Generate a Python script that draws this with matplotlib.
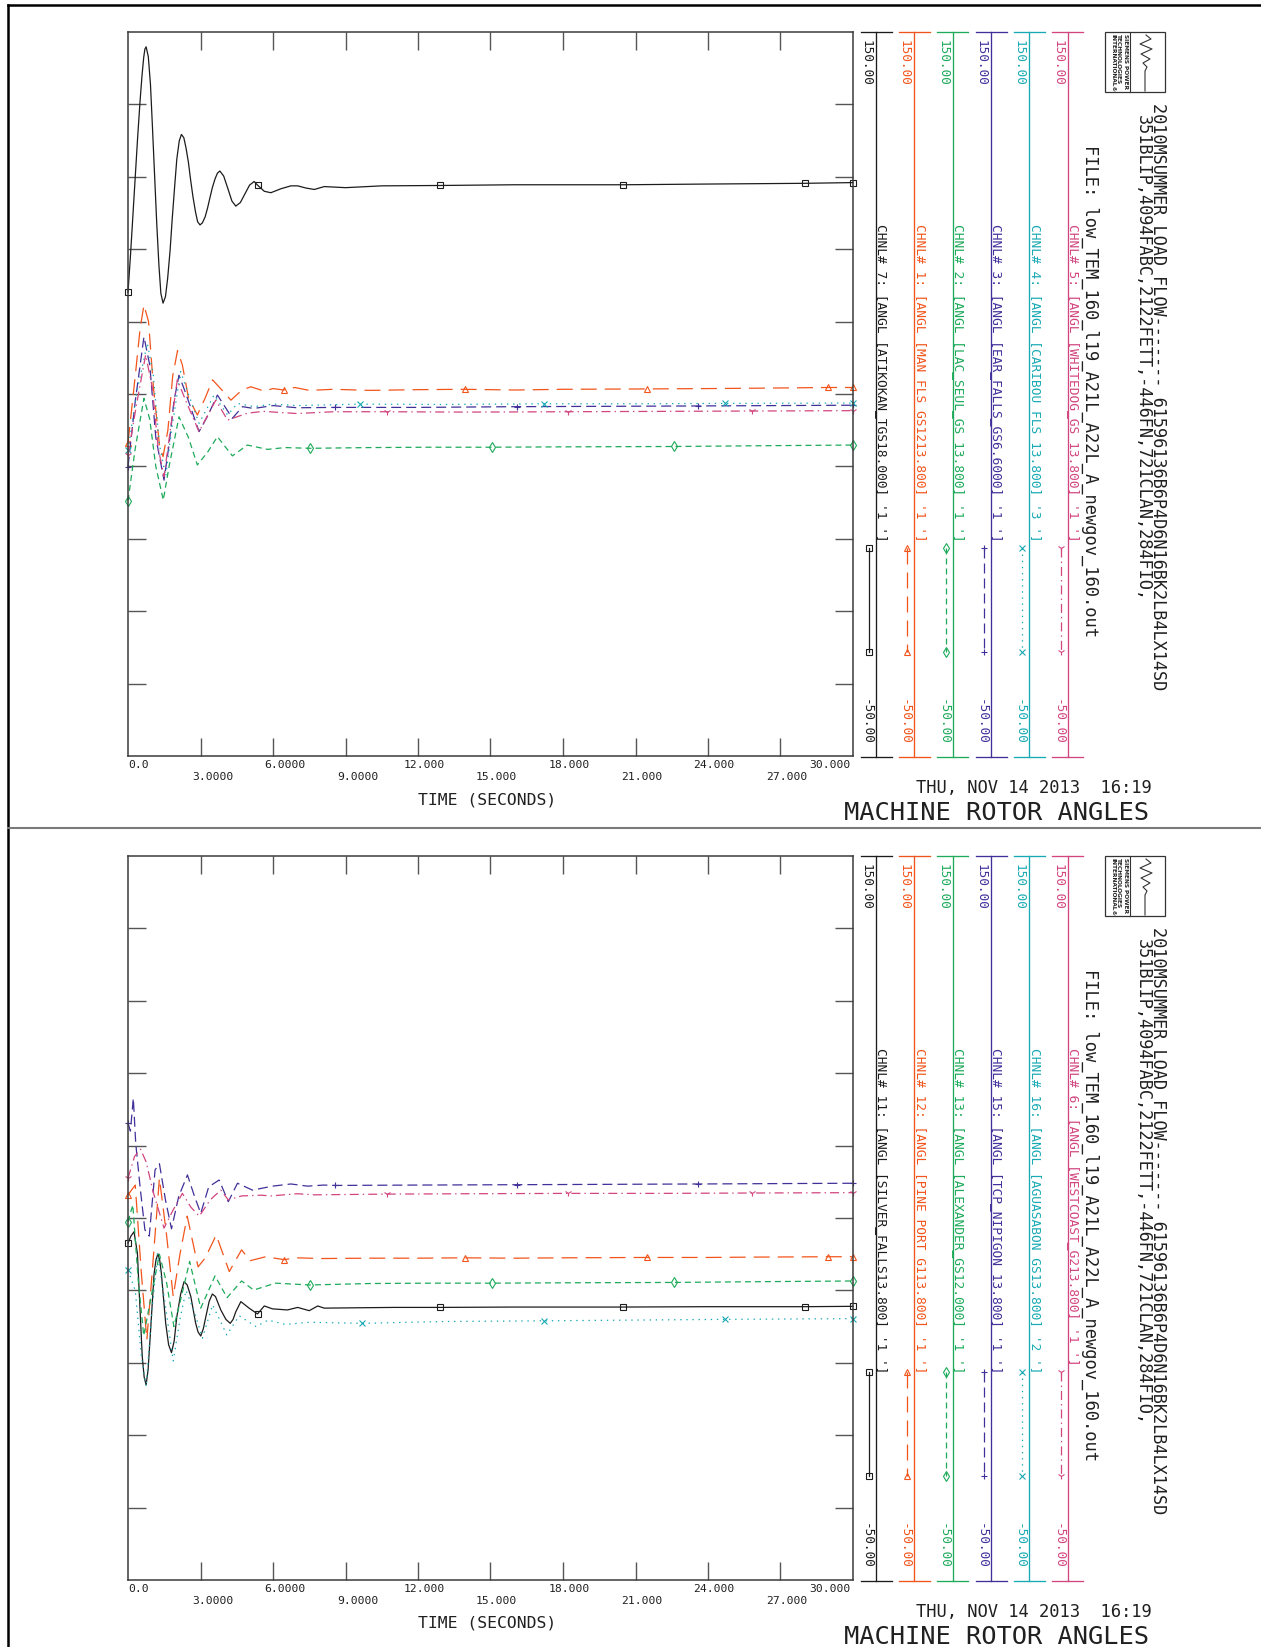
#!/usr/bin/env python3
import matplotlib
matplotlib.use('Agg')  # no display
import matplotlib.pyplot as plt
from matplotlib.patches import Rectangle
import numpy as np

plt.rcParams['font.family'] = ['DejaVu Sans Mono', 'DejaVu Sans']
plt.rcParams['lines.scale_dashes'] = False

# ---------------- text ----------------
HEADER_1 = '2010MSUMMER LOAD FLOW------- 61596136B6P4D6N16BK2LB4LX14SD'
HEADER_2 = '351BLIP,4094FABC,2122FETT,-446FN,721CLAN,284FIO,'
FILE_LINE = 'FILE: low_TEM_160_l19_A21L_A22L_A_newgov_160.out'
DATE_LINE = 'THU, NOV 14 2013  16:19'
TITLE = 'MACHINE ROTOR ANGLES'
X_LABEL = 'TIME (SECONDS)'
LOGO_LINES = ['SIEMENS POWER', 'TECHNOLOGIES', 'INTERNATIONAL\u00ae']

time_ticks = [0, 3, 6, 9, 12, 15, 18, 21, 24, 27, 30]
time_tick_labels = ['0.0', '3.0000', '6.0000', '9.0000', '12.000', '15.000',
                    '18.000', '21.000', '24.000', '27.000', '30.000']
value_ticks = [-30, -10, 10, 30, 50, 70, 90, 110, 130]
y_min, y_max = -50.0, 150.0
scale_top = '150.00'
scale_bottom = '-50.00'

# ---------------- top panel data (columns: black, orange, green, purple, cyan, magenta) ----------------
top_labels = [
    "CHNL# 7: [ANGL [ATIKOKAN_TGS18.000] '1 ']",
    "CHNL# 1: [ANGL [MAN_FLS_GS1213.800] '1 ']",
    "CHNL# 2: [ANGL [LAC_SEUL_GS 13.800] '1 ']",
    "CHNL# 3: [ANGL [EAR_FALLS_GS6.6000] '1 ']",
    "CHNL# 4: [ANGL [CARIBOU_FLS 13.800] '3 ']",
    "CHNL# 5: [ANGL [WHITEDOG_GS 13.800] '1 ']",
]

top_ch7_t = [0, 0.1, 0.2, 0.3, 0.4, 0.5, 0.58, 0.65, 0.7, 0.75, 0.84, 0.93, 1.01, 1.1, 1.19, 1.28,
             1.36, 1.45, 1.55, 1.64, 1.74, 1.83, 1.93, 2.02, 2.12, 2.21, 2.31, 2.4, 2.5, 2.59, 2.69,
             2.79, 2.88, 2.98, 3.08, 3.19, 3.29, 3.39, 3.49, 3.6, 3.7, 3.8, 3.96, 4.13, 4.3, 4.46,
             4.65, 4.84, 5.03, 5.22, 5.36, 5.64, 5.91, 6.33, 6.74, 7.02, 7.36, 7.71, 8.12, 9.0,
             10.5, 12.9, 16.0, 20.5, 24.0, 28.0, 30.0]
top_ch7_v = [78.1, 88.0, 99.0, 110.0, 121.0, 131.0, 138.0, 143.0, 145.3, 145.9, 143.2, 135.5, 124.0,
             110.5, 97.0, 85.5, 77.8, 75.1, 76.9, 81.9, 89.5, 98.4, 107.3, 114.9, 119.9, 121.7,
             120.8, 118.0, 114.0, 109.2, 104.4, 100.4, 97.6, 96.7, 97.3, 98.9, 101.3, 104.2, 107.0,
             109.4, 111.0, 111.6, 110.2, 106.8, 103.3, 101.9, 102.9, 105.3, 107.7, 108.7, 107.7,
             106.0, 105.6, 106.7, 107.5, 107.5, 106.9, 106.5, 107.3, 107.0, 107.5, 107.6, 107.8,
             107.8, 108.0, 108.2, 108.4]
top_ch7_marks = [0, 5.36, 12.9, 20.5, 28.0, 30.0]

top_ch1_t = [0, 0.3, 0.5, 0.66, 0.85, 1.05, 1.3, 1.45, 1.65, 1.85, 2.05, 2.25, 2.5, 2.87, 3.2, 3.5,
             3.9, 4.26, 4.7, 5.08, 5.64, 6.0, 6.44, 6.9, 7.5, 8.5, 10.0, 12.0, 13.93, 16.0, 18.0,
             21.46, 24.0, 26.0, 28.98, 30.0]
top_ch1_v = [36.5, 55.0, 68.0, 74.6, 70.0, 52.0, 36.0, 32.7, 40.0, 55.0, 62.0, 58.0, 49.0, 44.2,
             49.0, 53.9, 51.0, 48.3, 51.0, 52.0, 50.8, 51.5, 51.1, 51.8, 51.0, 51.3, 51.0, 51.2,
             51.3, 51.1, 51.3, 51.4, 51.5, 51.6, 51.8, 51.8]
top_ch1_marks = [0, 6.44, 13.93, 21.46, 28.98, 30.0]

top_ch2_t = [0, 0.3, 0.66, 0.9, 1.15, 1.46, 1.7, 2.11, 2.5, 2.87, 3.3, 3.7, 4.32, 4.94, 5.77, 6.5,
             7.53, 10.0, 12.5, 15.06, 18.0, 22.6, 26.0, 30.0]
top_ch2_v = [20.5, 35.0, 48.8, 43.0, 30.0, 20.7, 30.0, 43.7, 38.0, 30.4, 34.0, 38.2, 32.9, 35.9,
             34.7, 35.2, 35.0, 35.2, 35.3, 35.3, 35.4, 35.5, 35.7, 35.9]
top_ch2_marks = [0, 7.53, 15.06, 22.6, 30.0]

top_ch3_t = [0, 0.3, 0.66, 0.9, 1.15, 1.49, 1.7, 1.9, 2.11, 2.4, 2.94, 3.3, 3.7, 4.32, 4.74, 5.2,
             6.0, 7.0, 8.58, 12.0, 16.1, 20.0, 23.6, 30.0]
top_ch3_v = [29.9, 48.0, 65.8, 58.0, 38.0, 26.2, 36.0, 48.0, 55.2, 50.0, 39.6, 44.0, 49.7, 43.3,
             46.5, 46.0, 46.8, 46.2, 46.3, 46.3, 46.5, 46.6, 46.7, 46.9]
top_ch3_marks = [0, 8.58, 16.1, 23.6, 30.0]

top_ch4_t = [0, 0.35, 0.8, 1.05, 1.3, 1.56, 1.8, 2.18, 2.5, 2.94, 3.56, 4.12, 4.53, 5.2, 6.0, 7.0,
             9.6, 13.0, 17.2, 21.0, 24.7, 30.0]
top_ch4_v = [34.5, 50.0, 64.0, 55.0, 36.0, 27.2, 40.0, 56.2, 50.0, 41.9, 49.7, 44.2, 47.4, 46.5,
             47.2, 46.8, 47.2, 47.1, 47.3, 47.3, 47.4, 47.5]
top_ch4_marks = [0, 9.6, 17.2, 24.7, 30.0]

top_ch5_t = [0, 0.35, 0.73, 1.0, 1.25, 1.49, 1.75, 2.04, 2.4, 2.94, 3.63, 4.12, 4.94, 5.6, 7.0,
             8.5, 10.7, 14.0, 18.2, 22.0, 25.8, 30.0]
top_ch5_v = [33.1, 47.0, 60.8, 52.0, 35.0, 27.2, 40.0, 53.9, 48.0, 39.6, 48.3, 42.8, 44.7, 45.2,
             44.6, 45.1, 45.1, 45.0, 45.1, 45.2, 45.3, 45.4]
top_ch5_marks = [0, 10.7, 18.2, 25.8, 30.0]

# ---------------- bottom panel data ----------------
bot_labels = [
    "CHNL# 11: [ANGL [SILVER_FALLS13.800] '1 ']",
    "CHNL# 12: [ANGL [PINE_PORT_G113.800] '1 ']",
    "CHNL# 13: [ANGL [ALEXANDER_GS12.000] '1 ']",
    "CHNL# 15: [ANGL [TCP_NIPIGON 13.800] '1 ']",
    "CHNL# 16: [ANGL [AGUASABON_GS13.800] '2 ']",
    "CHNL# 6: [ANGL [WESTCOAST_G213.800] '1 ']",
]

bot_ch11_t = [0, 0.12, 0.25, 0.39, 0.46, 0.59, 0.67, 0.75, 0.83, 0.91, 1.08, 1.16, 1.24, 1.31,
              1.38, 1.56, 1.68, 1.8, 1.91, 2.02, 2.18, 2.32, 2.45, 2.6, 2.8, 2.9, 3.01, 3.12, 3.22,
              3.36, 3.49, 3.62, 3.84, 4.05, 4.23, 4.35, 4.46, 4.67, 5.01, 5.36, 5.64, 5.98, 6.6,
              7.02, 7.5, 7.85, 8.12, 9.5, 11.0, 12.9, 16.0, 20.5, 24.0, 28.0, 30.0]
bot_ch11_v = [43.0, 45.0, 46.2, 40.2, 30.1, 11.7, 6.0, 3.9, 8.0, 16.3, 34.7, 38.5, 40.1, 38.5,
              34.7, 20.9, 15.0, 12.8, 16.0, 22.7, 29.0, 32.4, 31.5, 28.3, 20.9, 18.5, 17.4, 19.5,
              22.7, 27.0, 29.0, 28.3, 24.6, 22.0, 20.9, 22.0, 24.1, 26.9, 25.1, 23.5, 25.7, 24.9,
              24.6, 25.3, 24.4, 25.7, 25.1, 25.2, 25.3, 25.3, 25.4, 25.4, 25.5, 25.5, 25.6]
bot_ch11_marks = [0, 5.36, 12.9, 20.5, 28.0, 30.0]

bot_ch12_t = [0, 0.3, 0.55, 0.78, 1.0, 1.3, 1.6, 1.87, 2.15, 2.45, 2.9, 3.2, 3.65, 4.19, 4.7,
              5.05, 5.7, 6.45, 7.0, 8.0, 10.0, 12.0, 13.93, 16.0, 18.0, 21.46, 24.0, 26.0, 28.98, 30.0]
bot_ch12_v = [56.4, 59.1, 35.0, 16.3, 35.0, 61.0, 45.0, 28.3, 40.0, 50.5, 36.5, 39.0, 45.3, 35.2,
              41.2, 38.2, 39.3, 38.5, 39.0, 38.8, 38.9, 38.9, 39.0, 38.9, 39.0, 39.1, 39.1, 39.2,
              39.3, 39.3]
bot_ch12_marks = [0, 6.45, 13.93, 21.46, 28.98, 30.0]

bot_ch13_t = [0, 0.2, 0.42, 0.65, 0.95, 1.3, 1.6, 1.9, 2.2, 2.55, 3.01, 3.6, 4.1, 4.7, 5.2, 6.1,
              7.52, 10.0, 12.5, 15.06, 18.0, 22.6, 26.0, 30.0]
bot_ch13_v = [49.0, 53.6, 33.0, 17.5, 28.0, 40.0, 32.0, 20.0, 28.0, 38.0, 25.1, 34.0, 28.0, 32.6,
              30.1, 32.0, 31.5, 31.9, 32.0, 32.0, 32.1, 32.2, 32.4, 32.6]
bot_ch13_marks = [0, 7.52, 15.06, 22.6, 30.0]

bot_ch15_t = [0, 0.1, 0.22, 0.32, 0.5, 0.7, 0.88, 1.12, 1.3, 1.55, 1.8, 2.1, 2.46, 2.75, 3.01,
              3.34, 3.77, 4.15, 4.53, 5.15, 5.98, 6.74, 7.43, 8.1, 8.58, 12.0, 16.1, 20.0, 23.6, 30.0]
bot_ch15_v = [76.2, 74.0, 83.1, 70.6, 58.6, 46.7, 45.0, 63.3, 65.0, 55.0, 47.0, 56.0, 61.9, 56.0,
              51.3, 58.6, 60.5, 54.5, 59.6, 57.7, 58.8, 59.4, 58.8, 59.1, 59.0, 59.1, 59.2, 59.3,
              59.4, 59.6]
bot_ch15_marks = [0, 8.58, 16.1, 23.6, 30.0]

bot_ch16_t = [0, 0.3, 0.55, 0.75, 1.0, 1.22, 1.5, 1.87, 2.15, 2.4, 2.75, 3.08, 3.5, 4.09, 4.6,
              5.3, 5.8, 6.5, 7.5, 9.7, 13.0, 17.2, 21.0, 24.7, 30.0]
bot_ch16_v = [35.6, 30.0, 12.0, 3.4, 25.0, 40.2, 28.0, 10.5, 22.0, 30.0, 24.0, 16.8, 26.0, 17.7,
              23.0, 20.0, 21.8, 20.6, 21.2, 20.9, 21.4, 21.6, 21.8, 22.0, 22.2]
bot_ch16_marks = [0, 9.7, 17.2, 24.7, 30.0]

bot_ch6_t = [0, 0.27, 0.52, 0.75, 1.05, 1.49, 1.85, 2.25, 2.6, 2.95, 3.4, 3.84, 4.15, 4.7, 5.5,
             5.91, 7.0, 7.7, 10.7, 14.0, 18.2, 22.0, 25.8, 30.0]
bot_ch6_v = [61.0, 67.0, 69.0, 65.5, 57.0, 47.2, 52.0, 56.8, 53.0, 50.5, 55.0, 57.7, 55.0, 56.1,
             56.3, 56.1, 56.7, 56.4, 56.6, 56.7, 56.8, 56.8, 56.9, 57.0]
bot_ch6_marks = [0, 10.7, 18.2, 25.8, 30.0]

# ---------------- layout / styles (pixels) ----------------
W, H = 1261, 1647
PX = 0.72          # points per pixel at dpi 100
PANEL_DY = 824
PLOT_L, PLOT_T, PLOT_R, PLOT_B = 128, 32, 853, 756
COL_X = [876, 914.3, 952.7, 991, 1029.3, 1067.7]
TEXT_C = '#202020'
MS = 5

STYLES = [
    dict(color='#1c1c1c', ls='-', marker='s'),
    dict(color='#f2551c', ls=(0, (11.5, 5.8)), marker='^'),
    dict(color='#1eaa5a', ls=(0, (4.3, 2.9)), marker='d'),
    dict(color='#42309a', ls=(0, (7.2, 3.6)), marker='+'),
    dict(color='#18aab4', ls=(0, (1.0, 3.4)), marker='x'),
    dict(color='#d2457f', ls=(0, (6.5, 2.9, 1.0, 2.9)), marker='1'),
]


def px_box(left, top, right, bottom):
    return [left / W, 1 - bottom / H, (right - left) / W, (bottom - top) / H]


def draw_logo(page, dy):
    page.add_patch(Rectangle((1105, 32 + dy), 60, 60, fill=False, ec='#333333', lw=0.9))
    page.plot([1129.5, 1129.5], [32 + dy, 92 + dy], color='#333333', lw=0.8)
    for x, s in zip([1123.8, 1117.4, 1111.0], LOGO_LINES):
        page.text(x, 34 + dy, s, rotation=-90, rotation_mode='anchor', ha='left', va='baseline',
                  fontsize=4.2, fontweight='bold', family='DejaVu Sans', color='#222222')
    wave_x = [1146, 1151, 1140, 1152, 1141, 1150, 1143, 1147, 1145, 1145]
    wave_y = [35, 39, 44, 49, 54, 59, 63, 67, 71, 91]
    page.plot(wave_x, [y + dy for y in wave_y], color='#333333', lw=0.8)


def draw_panel(fig, page, dy, series, labels):
    ax = fig.add_axes(px_box(PLOT_L, PLOT_T + dy, PLOT_R, PLOT_B + dy))
    ax.set_xlim(time_ticks[0], time_ticks[-1])
    ax.set_ylim(y_min, y_max)
    ax.set_xticks(time_ticks[1:-1])
    ax.set_yticks(value_ticks)
    ax.tick_params(direction='in', length=18 * PX, width=1.0, color='#555555',
                   top=True, right=True, labelbottom=False, labelleft=False)
    for sp in ax.spines.values():
        sp.set_color('#3a3a3a')
        sp.set_linewidth(1.1)

    for (t, v, marks), st in zip(series, STYLES):
        t = np.asarray(t, dtype=float)
        idx = [int(np.argmin(np.abs(t - m))) for m in marks]
        ax.plot(t, v, color=st['color'], ls=st['ls'], lw=0.9, marker=st['marker'],
                markevery=idx, ms=MS, mfc='none', mew=0.8, clip_on=False)

    # time tick labels, staggered on two rows
    for k, (tk, lab) in enumerate(zip(time_ticks, time_tick_labels)):
        base = 12.3 if k % 2 == 0 else 24
        if k == 0:
            ha, dx = 'left', 0
        elif k == len(time_ticks) - 1:
            ha, dx = 'right', -2
        else:
            ha, dx = 'center', (12 if len(lab.split('.')[0]) == 1 else 6)
        ax.annotate(lab, xy=(tk, 0), xycoords=('data', 'axes fraction'),
                    xytext=(dx * PX, -base * PX), textcoords='offset points',
                    ha=ha, va='baseline', fontsize=8.2, color=TEXT_C)
    ax.annotate(X_LABEL, xy=(0.5, 0), xycoords='axes fraction',
                xytext=(-3.5 * PX, -48 * PX), textcoords='offset points',
                ha='center', va='baseline', fontsize=11.8, color=TEXT_C)

    # channel scale columns on the right
    top, bot = PLOT_T + dy, PLOT_B + dy + 0.7
    for x, st, lab in zip(COL_X, STYLES, labels):
        c = st['color']
        page.plot([x, x], [top, bot], color=c, lw=0.95)
        page.plot([x - 15.5, x + 15.5], [top, top], color=c, lw=0.95)
        page.plot([x - 15.5, x + 15.5], [bot, bot], color=c, lw=0.95)
        page.text(x - 13.3, 40 + dy, scale_top, rotation=-90, rotation_mode='anchor',
                  ha='left', va='baseline', color=c, fontsize=9.2)
        page.text(x - 13.3, 745 + dy, scale_bottom, rotation=-90, rotation_mode='anchor',
                  ha='right', va='baseline', color=c, fontsize=9.2)
        page.text(x + 2.3, 224 + dy, lab, rotation=-90, rotation_mode='anchor',
                  ha='left', va='baseline', color=c, fontsize=9.3)
        page.plot([x - 7, x - 7], [548 + dy, 652 + dy], color=c, ls=st['ls'], lw=0.9,
                  marker=st['marker'], ms=MS, mfc='none', mew=0.8)

    # header and titles
    page.text(1153.3, 103 + dy, HEADER_1, rotation=-90, rotation_mode='anchor',
              ha='left', va='baseline', fontsize=12.2, color=TEXT_C)
    page.text(1138.3, 115 + dy, HEADER_2, rotation=-90, rotation_mode='anchor',
              ha='left', va='baseline', fontsize=12.2, color=TEXT_C)
    page.text(1085, 145 + dy, FILE_LINE, rotation=-90, rotation_mode='anchor',
              ha='left', va='baseline', fontsize=12.3, color=TEXT_C)
    page.text(1034, 793.3 + dy, DATE_LINE, ha='center', va='baseline', fontsize=12.3, color=TEXT_C)
    page.text(996, 820 + dy, TITLE, ha='center', va='baseline', fontsize=18.3, color=TEXT_C)
    draw_logo(page, dy)


def main():
    fig = plt.figure(figsize=(W / 100, H / 100), dpi=100, facecolor='white')
    page = fig.add_axes([0, 0, 1, 1])
    page.set_xlim(0, W)
    page.set_ylim(H, 0)
    page.axis('off')

    # page frame and panel separator
    page.plot([8, W], [4.7, 4.7], color='black', lw=1.8)
    page.plot([8, 8], [4.7, H], color='black', lw=1.8)
    page.plot([8, W], [828, 828], color='#7a7a7a', lw=1.5)

    top_series = [(top_ch7_t, top_ch7_v, top_ch7_marks), (top_ch1_t, top_ch1_v, top_ch1_marks),
                  (top_ch2_t, top_ch2_v, top_ch2_marks), (top_ch3_t, top_ch3_v, top_ch3_marks),
                  (top_ch4_t, top_ch4_v, top_ch4_marks), (top_ch5_t, top_ch5_v, top_ch5_marks)]
    bot_series = [(bot_ch11_t, bot_ch11_v, bot_ch11_marks), (bot_ch12_t, bot_ch12_v, bot_ch12_marks),
                  (bot_ch13_t, bot_ch13_v, bot_ch13_marks), (bot_ch15_t, bot_ch15_v, bot_ch15_marks),
                  (bot_ch16_t, bot_ch16_v, bot_ch16_marks), (bot_ch6_t, bot_ch6_v, bot_ch6_marks)]

    draw_panel(fig, page, 0, top_series, top_labels)
    draw_panel(fig, page, PANEL_DY, bot_series, bot_labels)

    fig.savefig('out.png', dpi=100, facecolor='white')
    plt.close(fig)


if __name__ == '__main__':
    main()
